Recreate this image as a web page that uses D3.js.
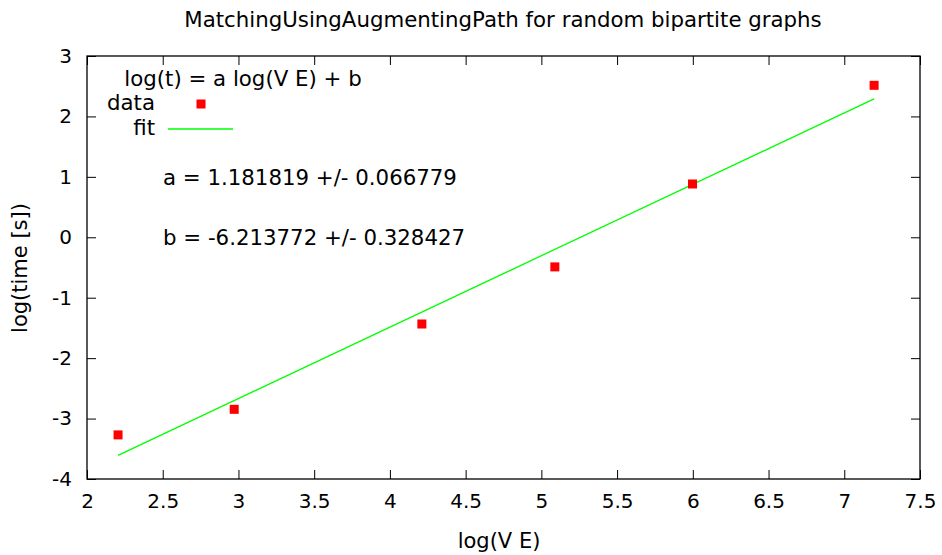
<!DOCTYPE html>
<html><head><meta charset="utf-8">
<script src="https://cdn.jsdelivr.net/npm/d3@7"></script>
<style>
body{margin:0;background:#fff;}
text{font-family:"DejaVu Sans",sans-serif;fill:#000;}
</style></head>
<body>
<svg id="chart" width="942" height="555"></svg>
<script>
const xData = [2.205, 2.972, 4.211, 5.089, 5.998, 7.197];
const yData = [-3.27, -2.847, -1.435, -0.49, 0.882, 2.515];
const fitA = 1.181819, fitAErr = 0.066779;
const fitB = -6.213772, fitBErr = 0.328427;
const xTicks = [2, 2.5, 3, 3.5, 4, 4.5, 5, 5.5, 6, 6.5, 7, 7.5];
const yTicks = [-4, -3, -2, -1, 0, 1, 2, 3];
const title = "MatchingUsingAugmentingPath for random bipartite graphs";

const W = 942, H = 555;
const m = {l:87, r:22, t:56, b:76};
const svg = d3.select("#chart");
const x = d3.scaleLinear().domain([2, 7.5]).range([m.l, W - m.r]);
const y = d3.scaleLinear().domain([-4, 3]).range([H - m.b, m.t]);
const fs = 20, fsT = 21.3, fsA = 21;
const fmt = d => String(d);

// axes
const tl = 9;
const gB = svg.append("g").attr("transform", `translate(0,${H-m.b})`)
  .call(d3.axisBottom(x).tickValues(xTicks).tickFormat(fmt).tickSizeInner(-tl).tickSizeOuter(0).tickPadding(15));
const gT = svg.append("g").attr("transform", `translate(0,${m.t})`)
  .call(d3.axisTop(x).tickValues(xTicks).tickFormat("").tickSizeInner(-tl).tickSizeOuter(0));
const gL = svg.append("g").attr("transform", `translate(${m.l},0)`)
  .call(d3.axisLeft(y).tickValues(yTicks).tickFormat(fmt).tickSizeInner(-tl).tickSizeOuter(0).tickPadding(15));
const gR = svg.append("g").attr("transform", `translate(${W-m.r},0)`)
  .call(d3.axisRight(y).tickValues(yTicks).tickFormat("").tickSizeInner(-tl).tickSizeOuter(0));
[gB,gT,gL,gR].forEach(g=>{
  g.select(".domain").remove();
  g.selectAll("line").attr("stroke","#000").attr("stroke-width",1);
  g.selectAll("text").attr("font-family","DejaVu Sans").attr("font-size",fs).attr("fill","#000");
});
gL.selectAll("text").attr("x", -15);
// border
svg.append("rect").attr("x", x(2)).attr("y", y(3)).attr("width", x(7.5)-x(2)).attr("height", y(-4)-y(3))
  .attr("fill","none").attr("stroke","#000").attr("stroke-width",1.3);

// fit line
const fx0 = d3.min(xData), fx1 = d3.max(xData);
svg.append("line").attr("x1", x(fx0)).attr("y1", y(fitA*fx0+fitB))
  .attr("x2", x(fx1)).attr("y2", y(fitA*fx1+fitB))
  .attr("stroke","#00ff00").attr("stroke-width",1.3);

// data points
const sz = 9;
svg.selectAll("rect.pt").data(xData.map((d,i)=>[d,yData[i]])).join("rect").attr("class","pt")
  .attr("x", d=>x(d[0])-sz/2).attr("y", d=>y(d[1])-sz/2).attr("width",sz).attr("height",sz).attr("fill","#ff0000");

// title & labels
svg.append("text").attr("x", 503).attr("y", 27).attr("text-anchor","middle").attr("font-size",fsT).text(title);
svg.append("text").attr("x", 499).attr("y", 548).attr("text-anchor","middle").attr("font-size",fsA).text("log(V E)");
svg.append("text").attr("transform","translate(27,268) rotate(-90)").attr("text-anchor","middle").attr("font-size",fsA).text("log(time [s])");

// legend
svg.append("text").attr("x", 243).attr("y", 86).attr("text-anchor","middle").attr("font-size",fsT).text("log(t) = a log(V E) + b");
svg.append("text").attr("x", 155).attr("y", 110).attr("text-anchor","end").attr("font-size",fsT).text("data");
svg.append("rect").attr("x", 201-sz/2).attr("y", 104-sz/2).attr("width",sz).attr("height",sz).attr("fill","#ff0000");
svg.append("text").attr("x", 155).attr("y", 135).attr("text-anchor","end").attr("font-size",fsT).text("fit");
svg.append("line").attr("x1",168).attr("x2",233).attr("y1",129).attr("y2",129).attr("stroke","#00ff00").attr("stroke-width",1.3);

// fit params labels
svg.append("text").attr("x", 163).attr("y", 185).attr("font-size",fsT)
  .text(`a = ${fitA.toFixed(6)} +/- ${fitAErr.toFixed(6)}`);
svg.append("text").attr("x", 163).attr("y", 245).attr("font-size",fsT)
  .text(`b = ${fitB.toFixed(6)} +/- ${fitBErr.toFixed(6)}`);
</script>
</body></html>
